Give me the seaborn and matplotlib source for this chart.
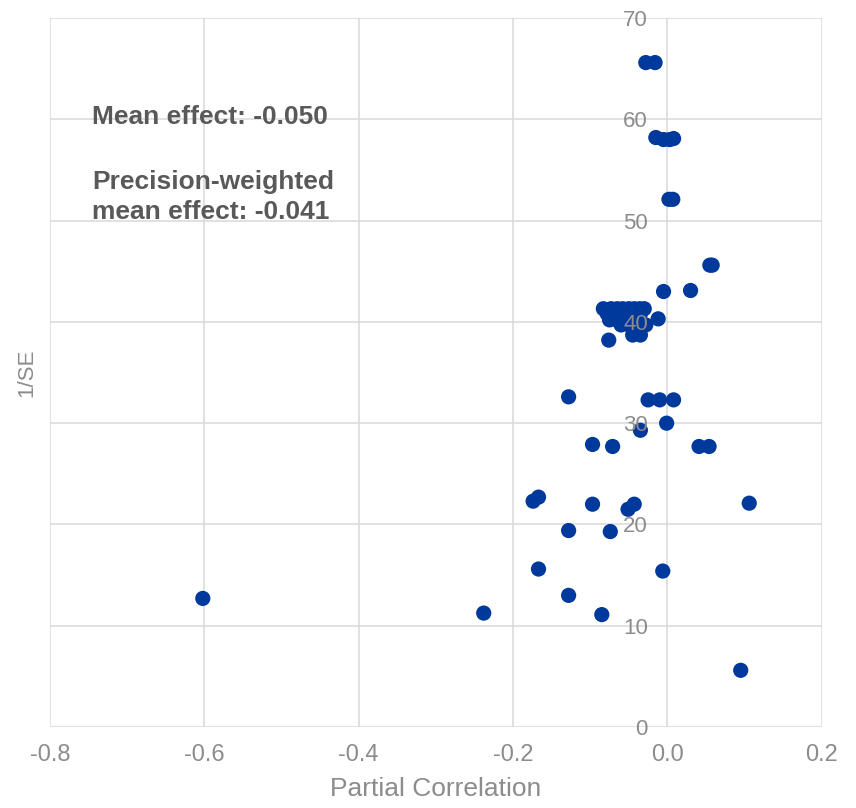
import numpy as np
import pandas as pd
import matplotlib
matplotlib.use("Agg")
import matplotlib.pyplot as plt
import seaborn as sns

# partial correlations and precision (1/SE)
partial_corr = [
    -0.602, -0.238, -0.128, -0.097, -0.071, -0.025, -0.010, 0.008, -0.001, -0.035,
    0.041, 0.054, 0.106, -0.097, -0.051, -0.043, -0.128, -0.074, -0.174, -0.167,
    -0.167, -0.128, -0.085, -0.006, 0.095,
    -0.028, -0.016, -0.015, -0.005, 0.003, 0.008, 0.002, 0.007,
    0.055, 0.058, -0.005, 0.030, -0.012, -0.076, -0.045, -0.035,
    -0.083, -0.073, -0.065, -0.058, -0.050, -0.043, -0.036, -0.030,
    -0.078, -0.068, -0.056, -0.044, -0.035,
    -0.075, -0.066, -0.055, -0.046, -0.038,
    -0.060, -0.050, -0.040, -0.028,
]
inv_se = [
    12.7, 11.25, 32.6, 27.9, 27.7, 32.3, 32.3, 32.3, 30.0, 29.3,
    27.7, 27.7, 22.1, 22.0, 21.5, 22.0, 19.4, 19.3, 22.3, 22.7,
    15.6, 13.0, 11.1, 15.4, 5.6,
    65.6, 65.6, 58.2, 58.0, 58.0, 58.1, 52.1, 52.1,
    45.6, 45.6, 43.0, 43.1, 40.3, 38.2, 38.7, 38.7,
    41.3, 41.3, 41.3, 41.3, 41.3, 41.3, 41.3, 41.3,
    40.8, 40.8, 40.8, 40.8, 40.8,
    40.2, 40.2, 40.2, 40.2, 40.2,
    39.7, 39.7, 39.7, 39.7,
]
x_ticks = [-0.8, -0.6, -0.4, -0.2, 0.0, 0.2]
y_ticks = [0, 10, 20, 30, 40, 50, 60, 70]

df = pd.DataFrame({"Partial Correlation": partial_corr, "1/SE": inv_se})

sns.set_style("white")
plt.rcParams["font.family"] = ["Liberation Sans", "DejaVu Sans"]
plt.rcParams["axes.axisbelow"] = False  # tick labels drawn over the dots

fig = plt.figure(figsize=(8.56, 8.08), dpi=100)
ax = fig.add_axes([0.0584, 0.1002, 0.9016, 0.8775])

# gridlines under the dots
for xt in x_ticks:
    ax.axvline(xt, color="#d9d9d9", linewidth=1.1, zorder=0.5)
for yt in y_ticks:
    ax.axhline(yt, color="#d9d9d9", linewidth=1.1, zorder=0.5)

sns.scatterplot(data=df, x="Partial Correlation", y="1/SE", ax=ax,
                s=120, color="#00399c", edgecolor="none", zorder=2)

ax.set_xlim(-0.8, 0.2)
ax.set_ylim(0, 70)
ax.set_xticks(x_ticks)
ax.set_xticklabels([f"{t:.1f}" for t in x_ticks])
ax.set_yticks(y_ticks)
ax.grid(False)

# y axis sits on x = 0
ax.spines["left"].set_position(("data", 0))
for side in ["left", "top", "right", "bottom"]:
    ax.spines[side].set_visible(False)

ax.tick_params(axis="both", length=0, colors="#8c8c8c")
ax.tick_params(axis="x", pad=12, labelsize=17)
ax.tick_params(axis="y", pad=14, labelsize=16)

ax.set_xlabel("Partial Correlation", fontsize=19, color="#8c8c8c", labelpad=8)
ax.set_ylabel("1/SE", fontsize=16, color="#8c8c8c")
ax.yaxis.set_label_coords(-0.017, 0.5)

ax.text(0.055, 0.860, "Mean effect: -0.050", transform=ax.transAxes,
        fontsize=19, fontweight="bold", color="#595959", va="center")
ax.text(0.055, 0.7475, "Precision-weighted\nmean effect: -0.041", transform=ax.transAxes,
        fontsize=19, fontweight="bold", color="#595959", va="center", linespacing=1.3)

fig.savefig("out.png", dpi=100)
